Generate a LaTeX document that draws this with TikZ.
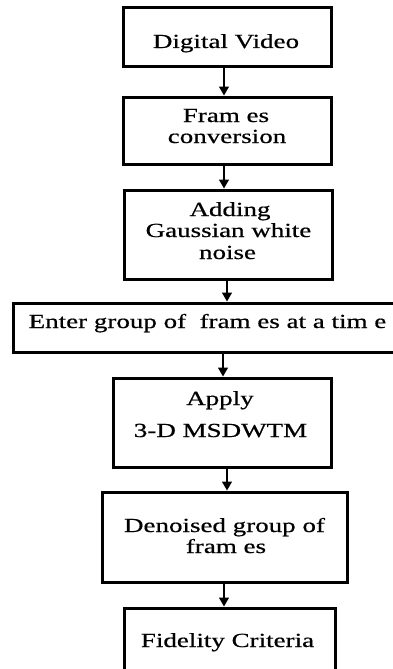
\documentclass[tikz,border=0pt]{standalone}
\usepackage{fontspec}
\setmainfont{Liberation Serif}[FakeStretch=1.35,FakeBold=0.6]
\usetikzlibrary{arrows.meta}
\begin{document}
\begin{tikzpicture}[x=1pt,y=-1pt,
 box/.style={draw, line width=3pt, inner sep=0pt, rectangle},
 lbl/.style={anchor=base, inner sep=0pt, font=\fontsize{20}{22}\selectfont},
 arr/.style={line width=1.4pt, -{Triangle[length=9pt,width=10pt]}}]
\useasboundingbox (0,0) rectangle (393,669);
\clip (0,0) rectangle (393,669);
\node[box, minimum width=208pt, minimum height=59pt] (b1) at (227,37.5) {};
\node[box, minimum width=208pt, minimum height=67pt] (b2) at (227,130.5) {};
\node[box, minimum width=208pt, minimum height=89pt] (b3) at (228,234.5) {};
\node[box, minimum width=387pt, minimum height=49pt] (b4) at (206.5,327.5) {};
\node[box, minimum width=218pt, minimum height=89pt] (b5) at (222,422.5) {};
\node[box, minimum width=245pt, minimum height=90pt] (b6) at (224.5,537) {};
\node[box, minimum width=211pt, minimum height=62pt] (b7) at (229.5,639) {};
\node[lbl] (t1) at (226,48) {Digital Video};
\node[lbl] (t2a) at (226,122) {Fram es};
\node[lbl] (t2b) at (227,143) {conversion};
\node[lbl] (t3a) at (230,216) {Adding};
\node[lbl] (t3b) at (228.5,237) {Gaussian white};
\node[lbl] (t3c) at (227.5,259) {noise};
\node[lbl] (t4) at (207.5,328) {Enter group of \ fram es at a tim e};
\node[lbl] (t5a) at (220,405) {Apply};
\node[lbl] (t5b) at (220.5,437) {3-D MSDWTM};
\node[lbl] (t6a) at (224.5,532) {Denoised group of};
\node[lbl] (t6b) at (226,553) {fram es};
\node[lbl] (t7) at (227.5,647) {Fidelity Criteria};
\draw[arr] (b1.south -| 224,0) -- (b2.north -| 224,0);
\draw[arr] (b2.south -| 224,0) -- (b3.north -| 224,0);
\draw[arr] (b3.south -| 227,0) -- (b4.north -| 227,0);
\draw[arr] (b4.south -| 223,0) -- (b5.north -| 223,0);
\draw[arr] (b5.south -| 227,0) -- (b6.north -| 227,0);
\draw[arr] (b6.south -| 224,0) -- (b7.north -| 224,0);
\end{tikzpicture}
\end{document}
